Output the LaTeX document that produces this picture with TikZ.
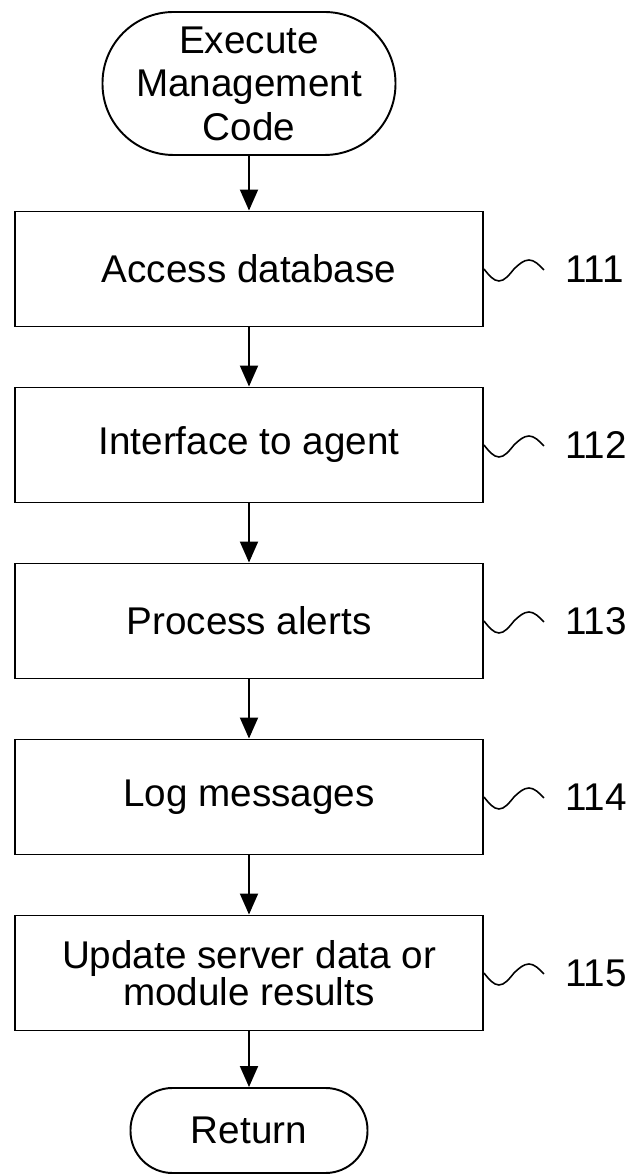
\documentclass[tikz,border=0pt]{standalone}
\usepackage{fontspec}
\setmainfont{Liberation Sans}
\usetikzlibrary{arrows.meta,positioning}

\begin{document}
\begin{tikzpicture}[
    stepbox/.style={draw, line width=1.1pt, minimum width=9.360000cm, minimum height=2.300000cm, align=center, inner sep=0pt},
    terminal/.style={draw, line width=1.1pt, align=center, inner sep=0pt},
    flow/.style={line width=1.1pt, -{Triangle[length=0.420000cm,width=0.360000cm]}},
    squiggle/.style={line width=0.9pt},
    refnum/.style={anchor=west, inner sep=0pt}]
                    \useasboundingbox (0,0) rectangle (12.640000,23.520000);
                    {\fontsize{22}{26}\selectfont

                    % Drawing terminal start
                    \node [terminal, minimum width=5.860000cm, minimum height=2.860000cm, rounded corners=1.420000cm, font=\fontsize{22}{24.7}\selectfont] (start) at (4.980000,21.850000) {Execute\\Management\\Code};%

                    % Drawing box access
                    \node [stepbox] (access) at (4.980000,18.140000) {Access database};%

                    % Drawing box agent
                    \node [stepbox] (agent) at (4.980000,14.620000) {Interface to agent};%

                    % Drawing box alerts
                    \node [stepbox] (alerts) at (4.980000,11.100000) {Process alerts};%

                    % Drawing box messages
                    \node [stepbox] (messages) at (4.980000,7.580000) {Log messages};%

                    % Drawing box update
                    \node [stepbox, font=\fontsize{22}{21}\selectfont] (update) at (4.980000,4.060000) {Update server data or\\module results};%

                    % Drawing terminal return
                    \node [terminal, minimum width=4.740000cm, minimum height=1.700000cm, rounded corners=0.840000cm] (return) at (4.980000,0.910000) {Return};%

                    % Drawing arrows
                    \draw [flow] (start) -- (access);%
                    \draw [flow] (access) -- (agent);%
                    \draw [flow] (agent) -- (alerts);%
                    \draw [flow] (alerts) -- (messages);%
                    \draw [flow] (messages) -- (update);%
                    \draw [flow] (update) -- (return);%

                    % Marking references 111 to 115
                    \draw [squiggle] (access.east) sin ++(0.3,-0.24) cos ++(0.3,0.24) sin ++(0.3,0.18) cos ++(0.3,-0.2);%
                    \node [refnum] (ref111) at ([xshift=1.620000cm]access.east) {111};%

                    \draw [squiggle] (agent.east) sin ++(0.3,-0.24) cos ++(0.3,0.24) sin ++(0.3,0.18) cos ++(0.3,-0.2);%
                    \node [refnum] (ref112) at ([xshift=1.620000cm]agent.east) {112};%

                    \draw [squiggle] (alerts.east) sin ++(0.3,-0.24) cos ++(0.3,0.24) sin ++(0.3,0.18) cos ++(0.3,-0.2);%
                    \node [refnum] (ref113) at ([xshift=1.620000cm]alerts.east) {113};%

                    \draw [squiggle] (messages.east) sin ++(0.3,-0.24) cos ++(0.3,0.24) sin ++(0.3,0.18) cos ++(0.3,-0.2);%
                    \node [refnum] (ref114) at ([xshift=1.620000cm]messages.east) {114};%

                    \draw [squiggle] (update.east) sin ++(0.3,-0.24) cos ++(0.3,0.24) sin ++(0.3,0.18) cos ++(0.3,-0.2);%
                    \node [refnum] (ref115) at ([xshift=1.620000cm]update.east) {115};%
                    }
\end{tikzpicture}
\end{document}
